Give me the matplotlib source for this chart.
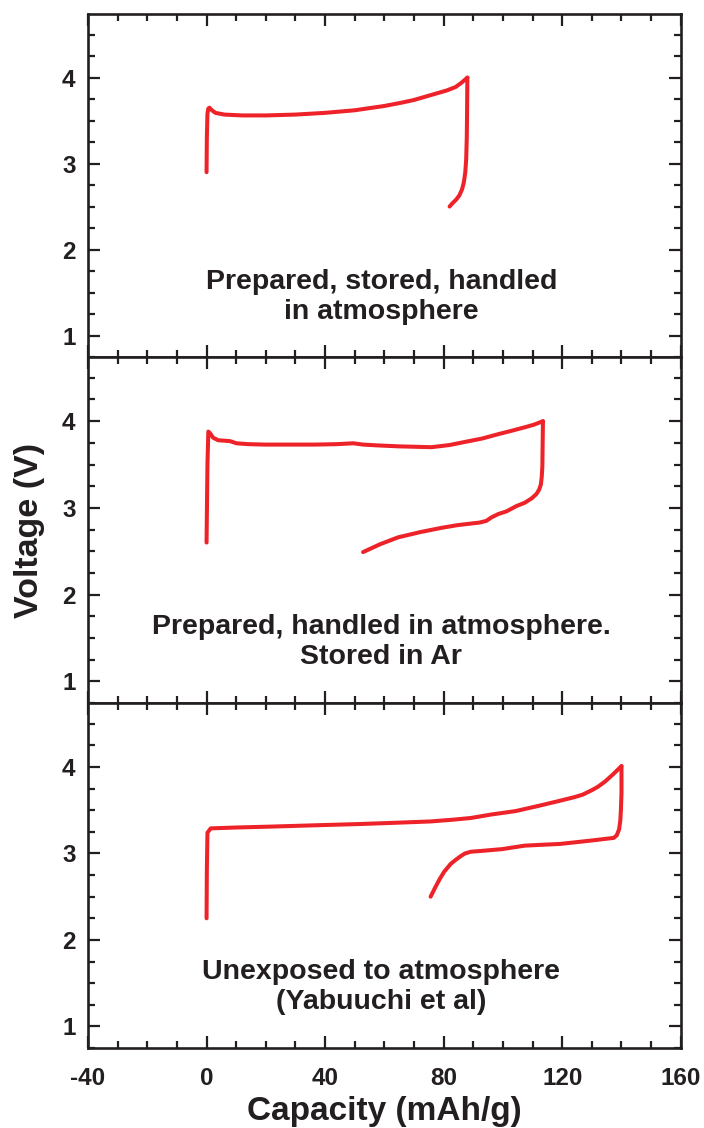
import matplotlib
matplotlib.use("Agg")
import matplotlib.pyplot as plt
from matplotlib.ticker import MultipleLocator

plt.rcParams['font.family'] = ['Liberation Sans', 'DejaVu Sans']
plt.rcParams['font.weight'] = 'bold'
plt.rcParams['axes.unicode_minus'] = False

RED = '#ee2229'
INK = '#231f20'

# Panel 1: prepared, stored, handled in atmosphere
p1_charge_x = [0, 0.1, 0.3, 0.6, 1.0, 1.5, 2.2, 3, 4.5, 6, 9, 12, 20, 30, 40, 50, 60, 66, 70, 74, 78, 81, 84, 86, 88]
p1_charge_y = [2.9, 3.3, 3.58, 3.64, 3.65, 3.63, 3.61, 3.59, 3.58, 3.57, 3.565, 3.56, 3.56, 3.57, 3.59, 3.62, 3.67, 3.71, 3.74, 3.78, 3.82, 3.85, 3.89, 3.94, 4.0]
p1_dis_x = [88.0, 87.9, 87.8, 87.6, 87.3, 86.8, 86.2, 85.3, 84.2, 83, 82]
p1_dis_y = [4.0, 3.6, 3.3, 3.05, 2.9, 2.78, 2.7, 2.63, 2.58, 2.54, 2.5]

# Panel 2: prepared, handled in atmosphere, stored in Ar
p2_charge_x = [0, 0.3, 0.6, 1.2, 2.2, 3.9, 6, 7.9, 10.1, 14, 19.7, 28, 36.5, 44, 49.5, 52.8, 58, 64.6, 70, 75.9, 82, 87.1, 93, 98.4, 103, 107.4, 110.5, 113.5]
p2_charge_y = [2.6, 3.5, 3.88, 3.86, 3.81, 3.78, 3.775, 3.77, 3.745, 3.735, 3.73, 3.73, 3.73, 3.735, 3.745, 3.73, 3.72, 3.71, 3.705, 3.70, 3.725, 3.76, 3.80, 3.85, 3.89, 3.93, 3.96, 4.0]
p2_dis_x = [113.5, 113.4, 113.3, 113.1, 112.8, 112.2, 111.3, 109.7, 107.4, 104.5, 101.2, 98.5, 96.1, 94.4, 92, 89.4, 84.5, 79.3, 72, 64.6, 58.5, 52.8]
p2_dis_y = [4.0, 3.75, 3.48, 3.36, 3.27, 3.21, 3.16, 3.11, 3.06, 3.02, 2.96, 2.93, 2.89, 2.85, 2.83, 2.82, 2.80, 2.77, 2.72, 2.66, 2.58, 2.49]

# Panel 3: unexposed to atmosphere (Yabuuchi et al)
p3_charge_x = [0, 0.1, 0.3, 1.4, 10, 21.3, 36, 51.5, 64, 75.6, 83, 89.2, 96, 104.3, 112, 119.3, 124, 126.9, 129.9, 132, 134.4, 137, 140]
p3_charge_y = [2.25, 2.8, 3.24, 3.29, 3.30, 3.31, 3.325, 3.34, 3.355, 3.37, 3.39, 3.41, 3.45, 3.49, 3.55, 3.61, 3.65, 3.68, 3.73, 3.77, 3.83, 3.91, 4.01]
p3_dis_x = [140, 140, 139.8, 139.6, 139.2, 138.4, 137.4, 130, 119.3, 113, 107.3, 99.7, 93, 89.2, 87.2, 85.8, 84.2, 82.4, 80.2, 78.6, 77.2, 75.6]
p3_dis_y = [4.01, 3.7, 3.50, 3.38, 3.28, 3.21, 3.18, 3.15, 3.11, 3.10, 3.09, 3.05, 3.03, 3.02, 3.0, 2.97, 2.93, 2.88, 2.79, 2.70, 2.61, 2.50]

labels = ["Prepared, stored, handled\nin atmosphere",
          "Prepared, handled in atmosphere.\nStored in Ar",
          "Unexposed to atmosphere\n(Yabuuchi et al)"]

xticks = [-40, 0, 40, 80, 120, 160]
yticks = [1, 2, 3, 4]

fig = plt.figure(figsize=(7.04, 11.28), dpi=100)
left, right = 0.125, 0.967
bounds = [(0.6835, 0.9876), (0.3768, 0.6835), (0.0709, 0.3768)]
panels = [(p1_charge_x, p1_charge_y, p1_dis_x, p1_dis_y),
          (p2_charge_x, p2_charge_y, p2_dis_x, p2_dis_y),
          (p3_charge_x, p3_charge_y, p3_dis_x, p3_dis_y)]

axes = []
for i, ((b, t), (cx, cy, dx, dy), lab) in enumerate(zip(bounds, panels, labels)):
    ax = fig.add_axes([left, b, right - left, t - b])
    ax.plot(cx, cy, color=RED, lw=2.9, solid_capstyle='round', solid_joinstyle='round')
    ax.plot(dx, dy, color=RED, lw=2.9, solid_capstyle='round', solid_joinstyle='round')
    ax.set_xlim(-40, 160)
    ax.set_ylim(0.75, 4.74)
    ax.set_xticks(xticks)
    ax.set_yticks(yticks)
    ax.xaxis.set_minor_locator(MultipleLocator(10))
    ax.yaxis.set_minor_locator(MultipleLocator(0.25))
    ax.tick_params(which='both', direction='in', top=True, right=True, width=1.6, color=INK)
    ax.tick_params(which='major', length=8.5)
    ax.tick_params(which='minor', length=5)
    ax.tick_params(axis='y', which='major', pad=9, labelsize=17.5, labelcolor=INK)
    ax.tick_params(axis='x', which='major', pad=14, labelsize=17.5, labelcolor=INK)
    for s in ax.spines.values():
        s.set_linewidth(1.9)
        s.set_color(INK)
    for tl in ax.get_yticklabels() + ax.get_xticklabels():
        tl.set_fontweight('bold')
    if i < 2:
        ax.tick_params(axis='x', labelbottom=False)
    ax.text(59.0, 1.45, lab, ha='center', va='center', fontsize=20.5, fontweight='bold',
            color=INK, linespacing=1.2)
    axes.append(ax)

axes[2].set_xlabel("Capacity (mAh/g)", fontsize=24, fontweight='bold', color=INK, labelpad=4)
fig.text(0.042, 0.53, "Voltage (V)", rotation=90, ha='center', va='center',
         fontsize=24.5, fontweight='bold', color=INK)

fig.savefig("out.png", dpi=100)
